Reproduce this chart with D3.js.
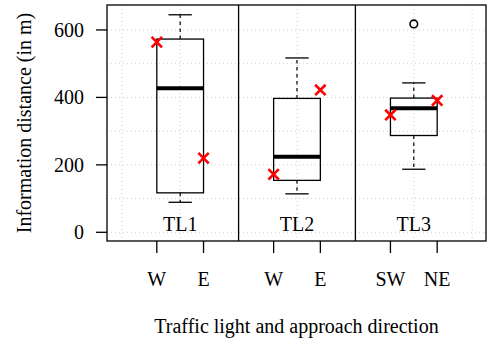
<!DOCTYPE html>
<html>

<head>
  <meta charset="UTF-8">
  <style>
    body { margin: 0; background: white; }
    text { font-family: "Liberation Serif", "Times New Roman", serif; font-size: 20px; fill: black; }
  </style>
</head>

<body>
  <svg></svg>
  <script src="https://d3js.org/d3.v7.min.js"></script>

  <script>
    // data
    let lights = ["TL1", "TL2", "TL3"];
    let whiskerLow = [89, 114, 187];
    let quart1 = [117, 154, 287];
    let medians = [427, 224, 368];
    let quart3 = [573, 397, 398];
    let whiskerHigh = [645, 517, 443];
    let outliers = [[], [], [618]];

    let directions = ["W", "E", "W", "E", "SW", "NE"];
    let dirLight = [0, 0, 1, 1, 2, 2];
    let crossValues = [564, 220, 172, 422, 348, 391];

    let yTicks = [0, 200, 400, 600];

    let width = 487, height = 343;
    let plotLeft = 107, plotRight = 486, plotTop = 5, plotBottom = 241;

    let svg = d3.select("svg")
      .attr("width", width)
      .attr("height", height);

    // positions: 1,2 | 3.5,4.5 | 6,7
    let dirPos = directions.map((d, i) => 1 + i + 0.5 * dirLight[i]);
    let boxPos = lights.map((d, i) => 1.5 + 2.5 * i);

    let x = d3.scaleLinear().domain([-0.066, 8.045]).range([plotLeft, plotRight]);
    let y = d3.scaleLinear().domain([-25.8, 674]).range([plotBottom, plotTop]);

    // grid
    let grid = svg.append("g")
      .attr("stroke", "#d0d0d0")
      .attr("stroke-width", 1)
      .attr("stroke-dasharray", "1,3");
    grid.selectAll(".hg")
      .data(d3.range(0, 700, 100))
      .enter()
      .append("line")
      .attr("x1", plotLeft).attr("x2", plotRight)
      .attr("y1", d => y(d)).attr("y2", d => y(d));
    grid.selectAll(".vg")
      .data(d3.range(0.25, 8, 1.25))
      .enter()
      .append("line")
      .attr("x1", d => x(d)).attr("x2", d => x(d))
      .attr("y1", plotTop).attr("y2", plotBottom);

    // boxes
    let boxes = svg.append("g")
      .selectAll("g")
      .data(lights)
      .enter()
      .append("g");

    boxes.append("line")
      .attr("x1", (d, i) => x(boxPos[i])).attr("x2", (d, i) => x(boxPos[i]))
      .attr("y1", (d, i) => y(quart3[i])).attr("y2", (d, i) => y(whiskerHigh[i]))
      .attr("stroke", "black").attr("stroke-width", 1.2).attr("stroke-dasharray", "3.5,3.5");
    boxes.append("line")
      .attr("x1", (d, i) => x(boxPos[i])).attr("x2", (d, i) => x(boxPos[i]))
      .attr("y1", (d, i) => y(quart1[i])).attr("y2", (d, i) => y(whiskerLow[i]))
      .attr("stroke", "black").attr("stroke-width", 1.2).attr("stroke-dasharray", "3.5,3.5");

    [whiskerLow, whiskerHigh].forEach(w => {
      boxes.append("line")
        .attr("x1", (d, i) => x(boxPos[i] - 0.25)).attr("x2", (d, i) => x(boxPos[i] + 0.25))
        .attr("y1", (d, i) => y(w[i])).attr("y2", (d, i) => y(w[i]))
        .attr("stroke", "black").attr("stroke-width", 1.3);
    });

    boxes.append("rect")
      .attr("x", (d, i) => x(boxPos[i] - 0.5))
      .attr("width", (d, i) => x(boxPos[i] + 0.5) - x(boxPos[i] - 0.5))
      .attr("y", (d, i) => y(quart3[i]))
      .attr("height", (d, i) => y(quart1[i]) - y(quart3[i]))
      .attr("fill", "none").attr("stroke", "black").attr("stroke-width", 1.3);

    boxes.append("line")
      .attr("x1", (d, i) => x(boxPos[i] - 0.5)).attr("x2", (d, i) => x(boxPos[i] + 0.5))
      .attr("y1", (d, i) => y(medians[i])).attr("y2", (d, i) => y(medians[i]))
      .attr("stroke", "black").attr("stroke-width", 4);

    boxes.selectAll("circle")
      .data((d, i) => outliers[i].map(v => ({ v: v, i: i })))
      .enter()
      .append("circle")
      .attr("cx", d => x(boxPos[d.i]))
      .attr("cy", d => y(d.v))
      .attr("r", 3.8)
      .attr("fill", "none").attr("stroke", "black").attr("stroke-width", 1.6);

    // panel labels
    boxes.append("text")
      .attr("x", (d, i) => x(boxPos[i]))
      .attr("y", 231)
      .attr("text-anchor", "middle")
      .text(d => d);

    // red crosses
    let cs = 5.2;
    svg.append("g")
      .attr("stroke", "#ff0000")
      .attr("stroke-width", 2.6)
      .selectAll("path")
      .data(crossValues)
      .enter()
      .append("path")
      .attr("d", (d, i) => {
        let cx = x(dirPos[i]), cy = y(d);
        return "M" + (cx - cs) + "," + (cy - cs) + "L" + (cx + cs) + "," + (cy + cs) +
          "M" + (cx - cs) + "," + (cy + cs) + "L" + (cx + cs) + "," + (cy - cs);
      });

    // frame and panel dividers
    svg.append("rect")
      .attr("x", plotLeft).attr("y", plotTop)
      .attr("width", plotRight - plotLeft).attr("height", plotBottom - plotTop)
      .attr("fill", "none").attr("stroke", "black").attr("stroke-width", 1.3);
    svg.selectAll(".divider")
      .data([2.75, 5.25])
      .enter()
      .append("line")
      .attr("x1", d => x(d)).attr("x2", d => x(d))
      .attr("y1", plotTop).attr("y2", plotBottom)
      .attr("stroke", "black").attr("stroke-width", 1.3);

    // y axis
    let yAxis = svg.append("g")
      .attr("transform", "translate(" + (plotLeft - 11) + ",0)")
      .call(d3.axisLeft(y).tickValues(yTicks).tickSize(0).tickPadding(12).tickFormat(d3.format("d")));
    yAxis.select(".domain").remove();
    yAxis.attr("font-family", null).attr("font-size", null);
    yAxis.selectAll("text").attr("fill", "black");
    svg.append("g").selectAll("line")
      .data(yTicks)
      .enter()
      .append("line")
      .attr("x1", plotLeft - 11).attr("x2", plotLeft)
      .attr("y1", d => y(d)).attr("y2", d => y(d))
      .attr("stroke", "black").attr("stroke-width", 1.3);

    // x axis
    let xTicks = svg.append("g");
    xTicks.selectAll("line")
      .data(dirPos)
      .enter()
      .append("line")
      .attr("x1", d => x(d)).attr("x2", d => x(d))
      .attr("y1", plotBottom).attr("y2", plotBottom + 12)
      .attr("stroke", "black").attr("stroke-width", 1.3);
    xTicks.selectAll("text")
      .data(directions)
      .enter()
      .append("text")
      .attr("x", (d, i) => x(dirPos[i]))
      .attr("y", 285.5)
      .attr("text-anchor", "middle")
      .text(d => d);

    // axis titles
    svg.append("text")
      .attr("x", (plotLeft + plotRight) / 2)
      .attr("y", 333)
      .attr("text-anchor", "middle")
      .text("Traffic light and approach direction");
    svg.append("text")
      .attr("transform", "translate(31," + (plotTop + plotBottom) / 2 + ") rotate(-90)")
      .attr("text-anchor", "middle")
      .text("Information distance (in m)");
  </script>

</body>

</html>
